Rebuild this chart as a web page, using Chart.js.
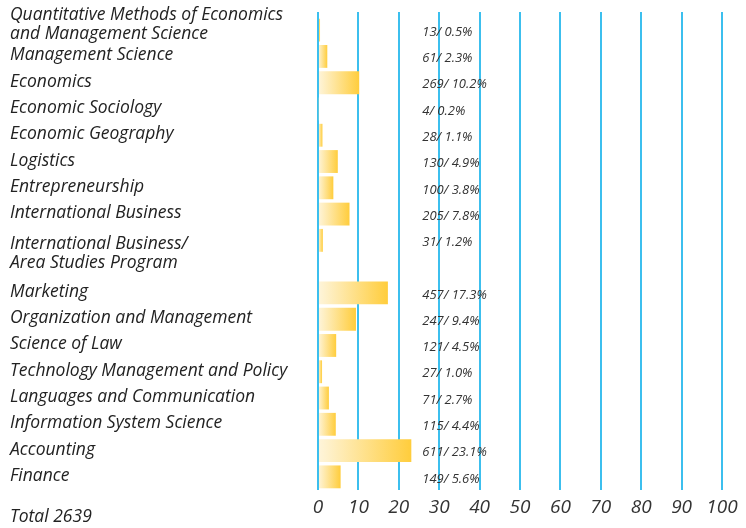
<!DOCTYPE html>
<html>
<head>
<meta charset="utf-8">
<script src="https://cdn.jsdelivr.net/npm/chart.js@4/dist/chart.umd.min.js"></script>
<style>
  body { margin: 0; background: #fff; }
  #wrap { width: 746px; height: 528px; }
</style>
</head>
<body>
<div id="wrap"><canvas id="myChart" width="746" height="528"></canvas></div>
<script>
// Datos del gráfico
var categorias = [
    ['Quantitative Methods of Economics', 'and Management Science'],
    'Management Science',
    'Economics',
    'Economic Sociology',
    'Economic Geography',
    'Logistics',
    'Entrepreneurship',
    'International Business',
    ['International Business/', 'Area Studies Program'],
    'Marketing',
    'Organization and Management',
    'Science of Law',
    'Technology Management and Policy',
    'Languages and Communication',
    'Information System Science',
    'Accounting',
    'Finance'
];
var cantidades = [13, 61, 269, 4, 28, 130, 100, 205, 31, 457, 247, 121, 27, 71, 115, 611, 149];
var porcentajes = [0.5, 2.3, 10.2, 0.2, 1.1, 4.9, 3.8, 7.8, 1.2, 17.3, 9.4, 4.5, 1.0, 2.7, 4.4, 23.1, 5.6];
var total = 2639;
var ticksX = [0, 10, 20, 30, 40, 50, 60, 70, 80, 90, 100];

var fuente = '"Open Sans", Lato, sans-serif';
var colorRejilla = '#3cbfee';

// En el original queda una fila vacía después de "International Business/ Area Studies Program"
var etiquetasEje = [], valoresEje = [], cantidadesEje = [];
for (var i = 0; i < categorias.length; i++) {
    etiquetasEje.push(categorias[i]);
    valoresEje.push(porcentajes[i]);
    cantidadesEje.push(cantidades[i]);
    if (i === 8) {
        etiquetasEje.push('');
        valoresEje.push(null);
        cantidadesEje.push(null);
    }
}

// Degradado de cada barra (claro a la izquierda, dorado a la derecha)
function colorBarra(ctx) {
    var chart = ctx.chart;
    var x = chart.scales.x;
    if (!chart.chartArea || !x || ctx.type !== 'data' || ctx.raw == null) return '#fdd24a';
    var x0 = x.getPixelForValue(0);
    var x1 = x.getPixelForValue(ctx.raw);
    if (x1 - x0 < 1) x1 = x0 + 1;
    var g = chart.ctx.createLinearGradient(x0, 0, x1, 0);
    g.addColorStop(0, '#fef5dc');
    g.addColorStop(1, '#ffcd3c');
    return g;
}

// Textos: categorías, "cantidad/ porcentaje" y el total
var etiquetas = {
    id: 'etiquetas',
    beforeDatasetsDraw: function(chart) {
        // las líneas de la rejilla suben un poco más que el área del gráfico
        var c = chart.ctx;
        var x = chart.scales.x;
        c.save();
        c.strokeStyle = colorRejilla;
        c.lineWidth = 2;
        for (var i = 0; i < ticksX.length; i++) {
            var px = Math.round(x.getPixelForValue(ticksX[i]));
            c.beginPath();
            c.moveTo(px, 12);
            c.lineTo(px, chart.chartArea.top);
            c.stroke();
        }
        c.restore();
    },
    afterDatasetsDraw: function(chart) {
        var c = chart.ctx;
        var x = chart.scales.x;
        var y = chart.scales.y;
        c.save();
        c.textAlign = 'left';
        c.textBaseline = 'middle';

        // categorías (las de dos líneas ocupan también la fila vacía siguiente)
        c.fillStyle = '#222';
        c.font = 'italic 17.5px ' + fuente;
        var alto = 18.5;
        for (var i = 0; i < etiquetasEje.length; i++) {
            var lab = etiquetasEje[i];
            if (lab === '') continue;
            var lineas = Array.isArray(lab) ? lab : [lab];
            var centro = y.getPixelForValue(i) - 1 - (lineas.length - 1) * 4.5;
            if (etiquetasEje[i + 1] === '') {
                centro = (y.getPixelForValue(i) + y.getPixelForValue(i + 1)) / 2;
            }
            var y0 = centro - (lineas.length - 1) * alto / 2;
            for (var k = 0; k < lineas.length; k++) {
                c.fillText(lineas[k], 10, y0 + k * alto);
            }
        }

        // valores
        c.fillStyle = '#333';
        c.font = 'italic 13px ' + fuente;
        var px = x.getPixelForValue(25.8);
        for (var j = 0; j < valoresEje.length; j++) {
            if (valoresEje[j] == null) continue;
            var py = y.getPixelForValue(j) + 2;
            c.fillText(cantidadesEje[j] + '/ ' + valoresEje[j].toFixed(1) + '%', px, py);
        }

        // total
        c.font = 'italic 17.5px ' + fuente;
        c.fillStyle = '#222';
        c.fillText('Total ' + total, 10, 517);
        c.restore();
    }
};

var ctx = document.getElementById('myChart').getContext('2d');
var myChart = new Chart(ctx, {
    type: 'bar',
    data: {
        labels: etiquetasEje,
        datasets: [{
            data: valoresEje,
            backgroundColor: colorBarra,
            borderWidth: 0,
            categoryPercentage: 1,
            barPercentage: 0.87
        }]
    },
    options: {
        indexAxis: 'y',
        responsive: false,
        animation: false,
        layout: { padding: { left: 10, right: 24, top: 17, bottom: 0 } },
        plugins: {
            legend: { display: false },
            tooltip: { enabled: false }
        },
        scales: {
            x: {
                min: 0,
                max: 100,
                afterBuildTicks: function(scale) {
                    scale.ticks = ticksX.map(function(v) { return { value: v }; });
                },
                afterFit: function(scale) { scale.height = 38; },
                grid: { color: colorRejilla, lineWidth: 2, drawTicks: false },
                border: { display: false },
                ticks: {
                    color: '#333',
                    padding: 6,
                    font: { family: fuente, size: 19, style: 'italic' }
                }
            },
            y: {
                afterFit: function(scale) { scale.width = 308; },
                grid: { display: false },
                border: { display: false },
                ticks: { display: false }
            }
        }
    },
    plugins: [etiquetas]
});
</script>
</body>
</html>
